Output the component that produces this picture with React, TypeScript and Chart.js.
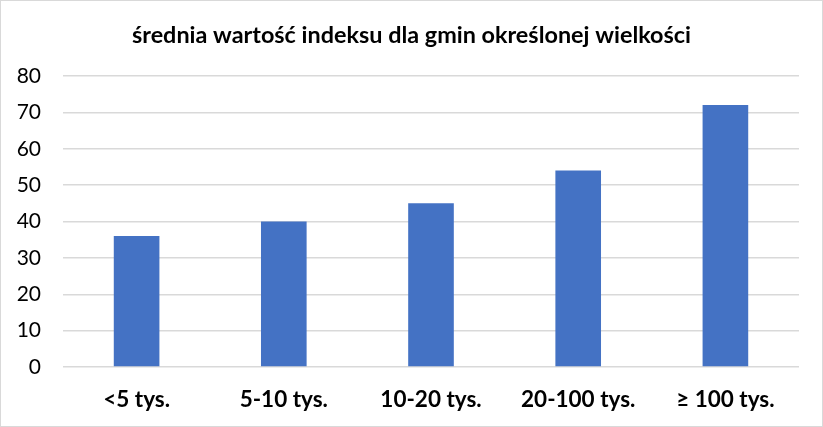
import React, { useEffect, useRef } from "react";
import { Chart, registerables } from "chart.js";

Chart.register(...registerables);

const categories = ["<5 tys.", "5-10 tys.", "10-20 tys.", "20-100 tys.", "≥ 100 tys."];
const values = [36, 40, 45, 54, 72];
const titleText = "średnia wartość indeksu dla gmin określonej wielkości";
const FONT = "Lato, 'Open Sans', sans-serif";

const centeredTitle = {
  id: "centeredTitle",
  afterDraw(chart: any) {
    const ctx = chart.ctx;
    ctx.save();
    ctx.fillStyle = "#000";
    ctx.font = `bold 23.4px ${FONT}`;
    ctx.textAlign = "center";
    ctx.textBaseline = "middle";
    ctx.fillText(titleText, chart.width / 2, 34);
    ctx.restore();
  },
};

export default function App() {
  const ref = useRef<HTMLCanvasElement | null>(null);

  useEffect(() => {
    document.body.style.margin = "0";
    if (!ref.current) return;
    const chart = new Chart(ref.current, {
      type: "bar",
      data: {
        labels: categories,
        datasets: [
          {
            data: values,
            backgroundColor: "#4472C4",
            categoryPercentage: 1,
            barPercentage: 0.31,
          },
        ],
      },
      plugins: [centeredTitle],
      options: {
        animation: false,
        responsive: false,
        maintainAspectRatio: false,
        layout: { padding: { left: 0, right: 23, top: 75, bottom: 0 } },
        plugins: {
          legend: { display: false },
          tooltip: { enabled: false },
          title: { display: false },
        },
        scales: {
          x: {
            grid: { display: false, drawTicks: false },
            border: { display: false },
            ticks: {
              color: "#000",
              font: { family: FONT, size: 22.5, weight: "bold" },
              padding: 19,
              maxRotation: 0,
              autoSkip: false,
            },
            afterFit: (s: any) => {
              s.height = 59;
            },
          },
          y: {
            min: 0,
            max: 80,
            ticks: {
              stepSize: 10,
              color: "#000",
              font: { family: FONT, size: 21 },
              padding: 22,
            },
            grid: { color: "#d9d9d9", lineWidth: 1.5, drawTicks: false },
            border: { display: false },
            afterFit: (s: any) => {
              s.width = 62;
            },
          },
        },
      },
    });
    return () => chart.destroy();
  }, []);

  return (
    <div
      style={{
        position: "absolute",
        left: 0,
        top: 0,
        width: 823,
        height: 427,
        boxSizing: "border-box",
        border: "1px solid #d9d9d9",
        background: "#fff",
      }}
    >
      <canvas ref={ref} width={821} height={425} style={{ display: "block" }} />
    </div>
  );
}
